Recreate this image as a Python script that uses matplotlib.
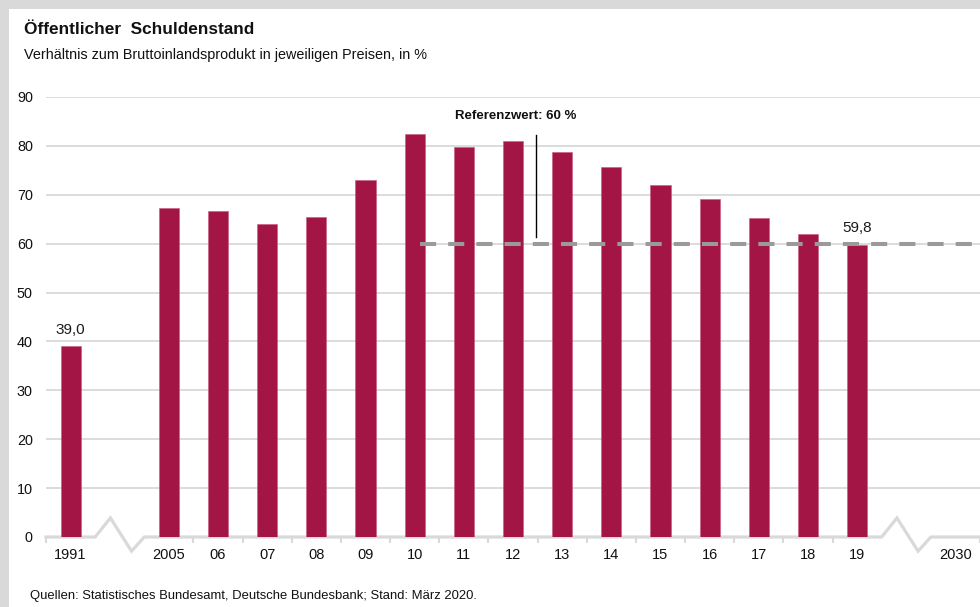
"""
plot.py

Öffentlicher Schuldenstand - bar chart with broken x axis.
"""

import matplotlib
matplotlib.use("Agg")
import matplotlib.pyplot as plt
from matplotlib.patches import Rectangle

# data
categories = ["1991", "", "2005", "06", "07", "08", "09", "10", "11", "12",
              "13", "14", "15", "16", "17", "18", "19", "", "2030"]
debt_ratio = [39.0, None, 67.3, 66.7, 64.0, 65.5, 73.0, 82.4, 79.7, 81.1,
              78.7, 75.7, 72.1, 69.2, 65.3, 61.9, 59.8, None, None]
labelled = {"1991": "39,0", "19": "59,8"}
reference_value = 60
y_ticks = [0, 10, 20, 30, 40, 50, 60, 70, 80, 90]

BAR_COLOR = "#a31545"
GRID_COLOR = "#d9d9d9"
FONT = ["Liberation Sans", "DejaVu Sans"]

plt.rcParams["font.family"] = FONT

fig = plt.figure(figsize=(9.8, 6.07), dpi=100)
fig.patch.set_facecolor(GRID_COLOR)
fig.patches.append(Rectangle((9 / 980, 0), 1, 1 - 9 / 607, transform=fig.transFigure,
                             facecolor="white", edgecolor="none", zorder=-10))

ax = fig.add_axes([46 / 980, 70 / 607, 1 - 46 / 980, 440 / 607])
ax.set_facecolor("none")

x = list(range(len(categories)))
bar_x = [i for i, v in zip(x, debt_ratio) if v is not None]
bar_y = [v for v in debt_ratio if v is not None]
ax.bar(bar_x, bar_y, width=0.41, color=BAR_COLOR, edgecolor="#c9577a", linewidth=0.4, zorder=3)

for i, cat in enumerate(categories):
    if cat in labelled:
        ax.annotate(labelled[cat], (i, debt_ratio[i]), xytext=(0, 7), textcoords="offset points",
                    ha="center", va="bottom", fontsize=11, color="#1a1a1a")

# grid
for t in y_ticks[1:]:
    ax.axhline(t, color=GRID_COLOR, lw=1.3, zorder=1)

# baseline with break marks
n = len(categories)
base_x = [-0.5, 0.5, 0.81, 1.24, 1.5, n - 2.5, n - 2.19, n - 1.76, n - 1.5, n - 0.5]
base_y = [0, 0, 3.9, -2.9, 0, 0, 3.9, -2.9, 0, 0]
ax.plot(base_x, base_y, color=GRID_COLOR, lw=2.3, clip_on=False, zorder=2,
        solid_joinstyle="miter")

# reference line
ax.plot([7.1, n - 0.5], [reference_value, reference_value], color="#9a9a9a", lw=2.9,
        dashes=(4.0, 3.0), dash_capstyle="butt", zorder=4, clip_on=False)
ax.plot([9.47, 9.47], [61.4, 82.2], color="black", lw=1.0, zorder=4)
ax.text(9.06, 86.2, "Referenzwert: 60 %", ha="center", va="center", fontsize=9.5,
        fontweight="bold", color="#111111")

ax.set_xlim(-0.5, n - 0.5)
ax.set_ylim(0, 90)
ax.set_yticks(y_ticks)
ax.tick_params(axis="y", length=0, pad=9.5, labelsize=10.4, labelcolor="#111111")
ax.set_xticks(x)
ax.set_xticklabels(categories)
ax.tick_params(axis="x", which="major", length=0, pad=8, labelsize=10.5, labelcolor="#111111")
ax.set_xticks([i - 0.5 for i in range(n + 1) if i not in (1, 2, n - 2, n - 1)], minor=True)
ax.tick_params(axis="x", which="minor", length=4, width=1.5, color=GRID_COLOR)
for s in ax.spines.values():
    s.set_visible(False)

fig.text(24 / 980, 1 - 29 / 607, "Öffentlicher  Schuldenstand", fontsize=12.4, fontweight="bold",
         ha="left", va="center", color="#111111")
fig.text(24 / 980, 1 - 55 / 607, "Verhältnis zum Bruttoinlandsprodukt in jeweiligen Preisen, in %",
         fontsize=10.4, ha="left", va="center", color="#111111")
fig.text(30 / 980, 1 - 596 / 607, "Quellen: Statistisches Bundesamt, Deutsche Bundesbank; Stand: März 2020.",
         fontsize=9.4, ha="left", va="center", color="#111111")

fig.savefig("out.png", dpi=100, facecolor=fig.get_facecolor())
